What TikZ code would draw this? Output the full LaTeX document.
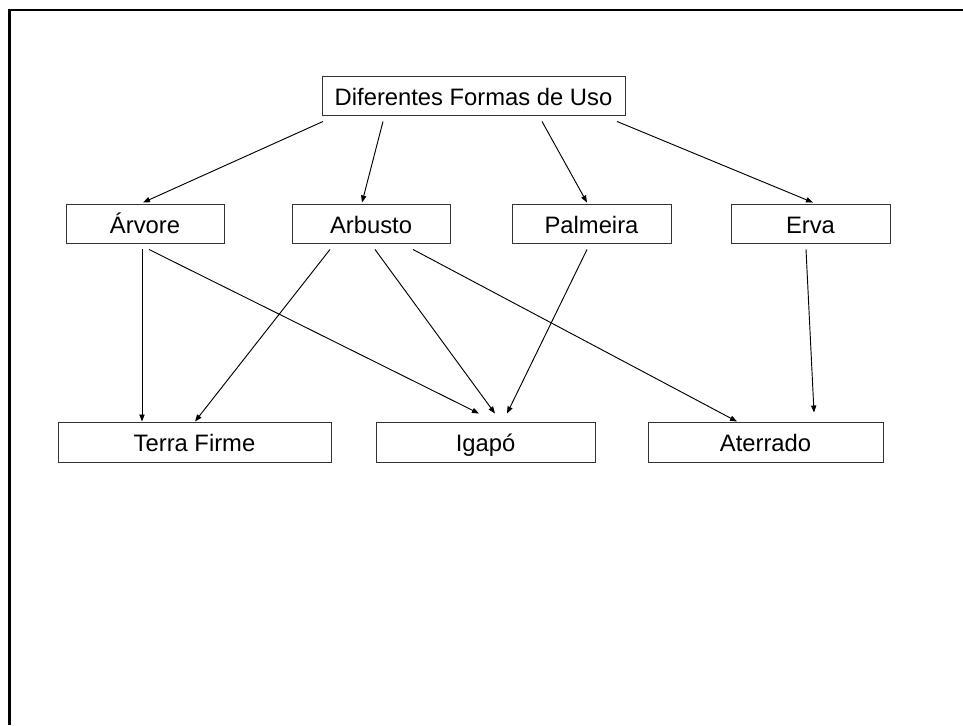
\documentclass[tikz,border=0pt]{standalone}
\usepackage{fontspec}
\setmainfont{Liberation Sans}
\usetikzlibrary{arrows.meta,calc}

\begin{document}
\begin{tikzpicture}[x=0.03cm,y=-0.03cm,
	caixa/.style={draw=black!80,line width=0.8pt,rectangle,inner sep=0pt,minimum height=1.17cm,text height=16.4pt,text depth=0pt,font=\fontsize{20.3}{24}\selectfont},
	seta/.style={line width=0.8pt,-{Triangle[length=6pt,width=4.5pt]}}]
			\useasboundingbox (0,0) rectangle (963,725);
			% moldura
			\draw[line width=2.2pt] (963,10) -- (9.5,10) -- (9.5,725);
			
			\node[caixa,minimum width=9.09cm] (dfu) at (473.5,95.5) {Diferentes Formas de Uso};
			
			\node[caixa,minimum width=4.74cm] (arvore) at (145,223.5) {Árvore};
			\node[caixa,minimum width=4.74cm] (arbusto) at (371,223.5) {Arbusto};
			\node[caixa,minimum width=4.77cm] (palmeira) at (591.5,223.5) {Palmeira};
			\node[caixa,minimum width=4.77cm] (erva) at (810.5,223.5) {Erva};
			
			\node[caixa,minimum width=8.19cm,minimum height=1.2cm] (terra) at (194.5,442) {Terra Firme};
			\node[caixa,minimum width=6.57cm,minimum height=1.2cm] (igapo) at (485.5,442) {Igapó};
			\node[caixa,minimum width=7.05cm,minimum height=1.2cm] (aterrado) at (765.5,442) {Aterrado};
			
			\foreach \a/\ax/\ay/\b/\bx/\by in {dfu/-150.5/6/arvore/-2/-1,dfu/-90.5/6/arbusto/-9/-1,
				dfu/68.5/6/palmeira/-4.5/-1,dfu/143.5/6/erva/2.5/-1,
				arvore/-3/6/terra/-52.5/0,arvore/4/6/igapo/-6.5/-8,
				arbusto/-41/6/terra/0.5/0,arbusto/4/6/igapo/9.5/-8,arbusto/42/6/aterrado/-28.5/0,
				palmeira/-4.5/6/igapo/21.5/-8,erva/-4.5/6/aterrado/48.5/-9}
			\draw[seta] ($(\a.south)+(\ax,\ay)$) -- ($(\b.north)+(\bx,\by)$);
			\end{tikzpicture}
\end{document}
